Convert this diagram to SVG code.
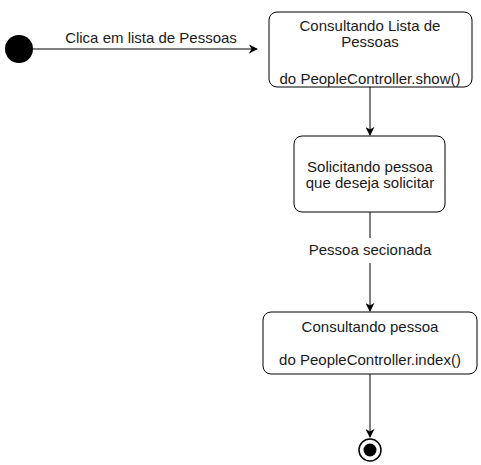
<svg xmlns="http://www.w3.org/2000/svg" width="481" height="465" viewBox="0 0 481 465">
<defs>
<style>
.node{fill:#fff;stroke:#000;stroke-width:1}
.t{font-family:"Liberation Sans",Arial,sans-serif;font-size:15px;fill:#1a1a1a;text-anchor:middle}
.e{stroke:#000;stroke-width:1;fill:none}
</style>
<marker id="ah" viewBox="0 0 10 10" refX="9" refY="5" markerWidth="9" markerHeight="9" markerUnits="userSpaceOnUse" orient="auto">
<path d="M0,0 L10,5 L0,10 L3,5 Z" fill="#000"/>
</marker>
</defs>
<rect width="481" height="465" fill="#fff"/>
<g id="start"><circle cx="19" cy="49" r="14" fill="#000"/></g>
<g id="connectors">
<path class="e" d="M33,49 L257,49" marker-end="url(#ah)"/>
<text class="t" x="151" y="43">Clica em lista de Pessoas</text>
<path class="e" d="M370,87 L370,135" marker-end="url(#ah)"/>
<path class="e" d="M370,212 L370,238"/>
<text class="t" x="370" y="255">Pessoa secionada</text>
<path class="e" d="M370,263 L370,311" marker-end="url(#ah)"/>
<path class="e" d="M370,374 L370,437" marker-end="url(#ah)"/>
</g>
<g id="n1">
<rect class="node" x="269" y="12" width="203" height="75" rx="8"/>
<text class="t" x="370" y="31">Consultando Lista de</text>
<text class="t" x="370" y="47">Pessoas</text>
<text class="t" x="370" y="84">do PeopleController.show()</text>
</g>
<g id="n2">
<rect class="node" x="294" y="136" width="151" height="76" rx="8"/>
<text class="t" x="370" y="172">Solicitando pessoa</text>
<text class="t" x="370" y="188">que deseja solicitar</text>
</g>
<g id="n3">
<rect class="node" x="263" y="312" width="214" height="62" rx="8"/>
<text class="t" x="370" y="332">Consultando pessoa</text>
<text class="t" x="370" y="365">do PeopleController.index()</text>
</g>
<g id="end">
<circle cx="370" cy="450" r="11" fill="#fff" stroke="#000" stroke-width="1.5"/>
<circle cx="370" cy="450" r="6.5" fill="#000"/>
</g>
</svg>
